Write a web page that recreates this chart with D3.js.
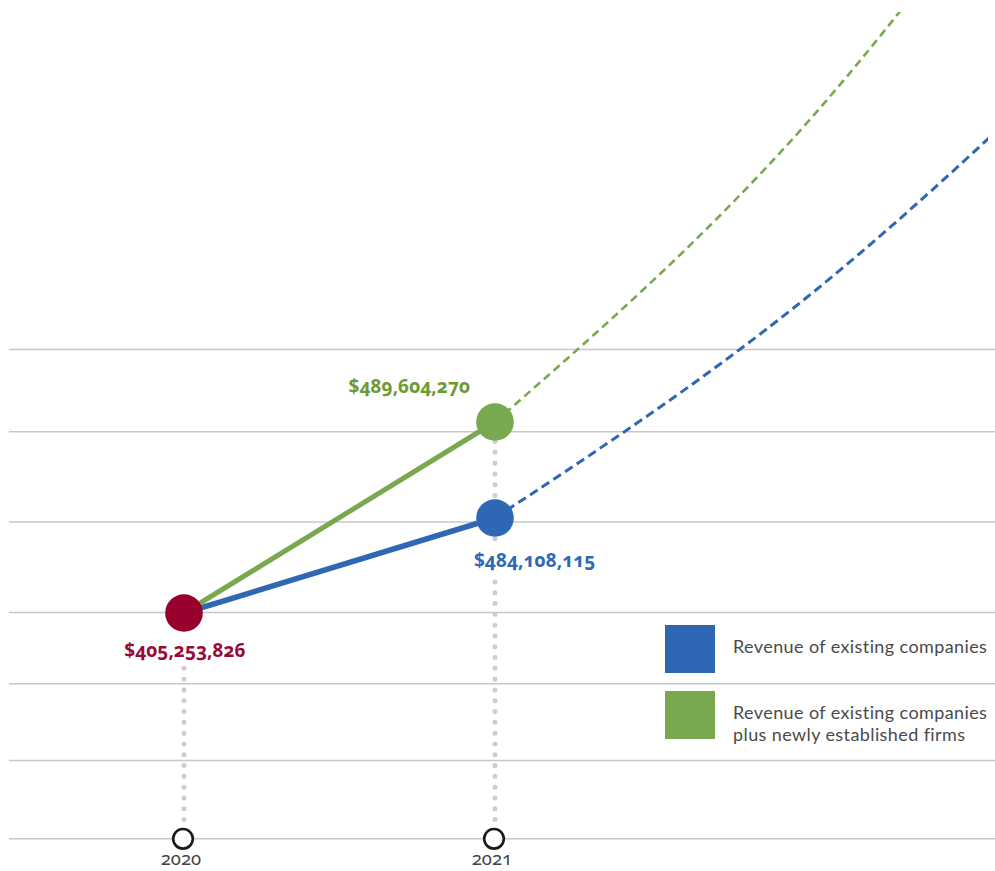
<!DOCTYPE html>
<html>
<head>
<meta charset="utf-8">
<script src="https://cdn.jsdelivr.net/npm/d3@7"></script>
<style>
  html, body { margin: 0; padding: 0; background: #fff; }
  svg { display: block; font-family: "Noto Sans", "DejaVu Sans", sans-serif; }
  .num { font-feature-settings: "onum" 1; }
  .legend-text { font-family: Lato, "Noto Sans", sans-serif; letter-spacing: 0.4px; }
</style>
</head>
<body>
<svg id="chart" width="995" height="871"></svg>
<script>
// Years shown on the axis
const years = [2020, 2021];
const yearLabels = ["2020", "2021"];

// Revenue in USD (both series start from the same 2020 figure)
const startRevenue = 405253826;
const existingRevenue = [405253826, 484108115];
const withNewRevenue = [405253826, 489604270];

// Projected growth after 2021 (dashed)
const projYears = [2021, 2022, 2023];
const existingProjection = [484108115, 592500000, 825600000];
const withNewProjection = [489604270, 737000000, 1072300000];

// Horizontal reference lines
const gridValues = [217.8e6, 282.8e6, 346.6e6, 405.7e6, 480.8e6, 489.05e6, 549.8e6];

const seriesNames = [
  ["Revenue of existing companies"],
  ["Revenue of existing companies", "plus newly established firms"]
];
const seriesColors = ["#2e68b4", "#79a84f"];
const labelColors = { start: "#9a0a37", existing: "#2f69b3", withNew: "#6e9a32" };

const fmt = d => "$" + d3.format(",")(d);

const svg = d3.select("#chart");
const W = 995, H = 871;

// Horizontal: one year step between the two observed points
const x = d3.scaleLinear().domain([2020, 2021]).range([184, 495]);

// Vertical: broken scale so the small gap between the two 2021 figures stays readable
const y = d3.scaleLinear()
  .domain([startRevenue, existingRevenue[1], withNewRevenue[1],
           withNewRevenue[1] + (existingRevenue[1] - startRevenue)])
  .range([613, 518, 422, 327]);

const axisY = y(gridValues[0]);

// Grid
svg.append("g").selectAll("line").data(gridValues).join("line")
  .attr("x1", 9).attr("x2", W)
  .attr("y1", d => y(d)).attr("y2", d => y(d))
  .attr("stroke", "#c8c8c8").attr("stroke-width", 1.5);

// Dotted drop lines from each year's top point to the axis marker
const dropTops = [startRevenue, withNewRevenue[1]];
svg.append("g").selectAll("path").data(years).join("path")
  .attr("d", (d, i) => `M${x(d)},${axisY - 19.3}L${x(d)},${y(dropTops[i])}`)
  .attr("fill", "none")
  .attr("stroke", "#cdcdcd").attr("stroke-width", 5)
  .attr("stroke-linecap", "round")
  .attr("stroke-dasharray", "0 10.8");

// Solid observed lines
const solid = d3.line().x(d => x(d[0])).y(d => y(d[1]));
const obsExisting = years.map((yr, i) => [yr, existingRevenue[i]]);
const obsWithNew = years.map((yr, i) => [yr, withNewRevenue[i]]);
svg.append("path").datum(obsExisting).attr("d", solid)
  .attr("fill", "none").attr("stroke", seriesColors[0]).attr("stroke-width", 5.5);
svg.append("path").datum(obsWithNew).attr("d", solid)
  .attr("fill", "none").attr("stroke", seriesColors[1]).attr("stroke-width", 5);

// Dashed projections, clipped to the drawing area
svg.append("defs").append("clipPath").attr("id", "plot-clip")
  .append("rect").attr("x", 0).attr("y", 12).attr("width", 988).attr("height", H);
const proj = d3.line().x(d => x(d[0])).y(d => y(d[1])).curve(d3.curveMonotoneX);
const gProj = svg.append("g").attr("clip-path", "url(#plot-clip)");
gProj.append("path").datum(projYears.map((yr, i) => [yr, existingProjection[i]]))
  .attr("d", proj).attr("fill", "none")
  .attr("stroke", seriesColors[0]).attr("stroke-width", 3)
  .attr("stroke-dasharray", "9 5");
gProj.append("path").datum(projYears.map((yr, i) => [yr, withNewProjection[i]]))
  .attr("d", proj).attr("fill", "none")
  .attr("stroke", seriesColors[1]).attr("stroke-width", 2.6)
  .attr("stroke-dasharray", "8 5");

// Value labels with a white backing so the drop lines break around them
const labels = [
  { v: startRevenue, yr: 2020, dx: 1, dy: 44, anchor: "middle", color: labelColors.start },
  { v: withNewRevenue[1], yr: 2021, dx: -25, dy: -29, anchor: "end", color: labelColors.withNew },
  { v: existingRevenue[1], yr: 2021, dx: -21, dy: 49, anchor: "start", color: labelColors.existing }
];
const gLab = svg.append("g");
labels.forEach(l => {
  const g = gLab.append("g");
  const rect = g.append("rect").attr("fill", "#fff");
  const t = g.append("text").attr("class", "num")
    .attr("x", x(l.yr) + l.dx).attr("y", y(l.v) + l.dy)
    .attr("text-anchor", l.anchor)
    .attr("font-size", 19).attr("font-weight", 700)
    .attr("fill", l.color)
    .text(fmt(l.v));
  const b = t.node().getBBox();
  rect.attr("x", b.x - 3).attr("y", b.y - 3)
    .attr("width", b.width + 6).attr("height", b.height + 6);
});

// Data points
const points = [
  { yr: 2020, v: startRevenue, c: "#98002e" },
  { yr: 2021, v: withNewRevenue[1], c: seriesColors[1] },
  { yr: 2021, v: existingRevenue[1], c: seriesColors[0] }
];
svg.append("g").selectAll("circle").data(points).join("circle")
  .attr("cx", d => x(d.yr)).attr("cy", d => y(d.v))
  .attr("r", 18.8).attr("fill", d => d.c);

// Axis markers and year labels
const gAxis = svg.append("g");
gAxis.selectAll("circle").data(years).join("circle")
  .attr("cx", d => x(d) - 1).attr("cy", axisY).attr("r", 9.8)
  .attr("fill", "#fff").attr("stroke", "#1a1a1a").attr("stroke-width", 2.6);
gAxis.selectAll("text").data(years).join("text")
  .attr("class", "num")
  .attr("x", d => x(d) - 3).attr("y", 865)
  .attr("text-anchor", "middle")
  .attr("font-size", 18.5).attr("fill", "#444")
  .text((d, i) => yearLabels[i]);

// Legend
const gLeg = svg.append("g").attr("transform", "translate(665,625)");
const legRows = gLeg.selectAll("g").data(seriesNames).join("g")
  .attr("transform", (d, i) => `translate(0,${i * 66})`);
legRows.append("rect").attr("width", 50).attr("height", 48)
  .attr("fill", (d, i) => seriesColors[i]);
legRows.each(function (lines, i) {
  const t = d3.select(this).append("text").attr("class", "legend-text")
    .attr("font-size", 18).attr("fill", "#4a4a4a");
  lines.forEach((s, j) => {
    t.append("tspan").attr("x", 68).attr("y", 28 + j * 21.5).text(s);
  });
});
</script>
</body>
</html>
